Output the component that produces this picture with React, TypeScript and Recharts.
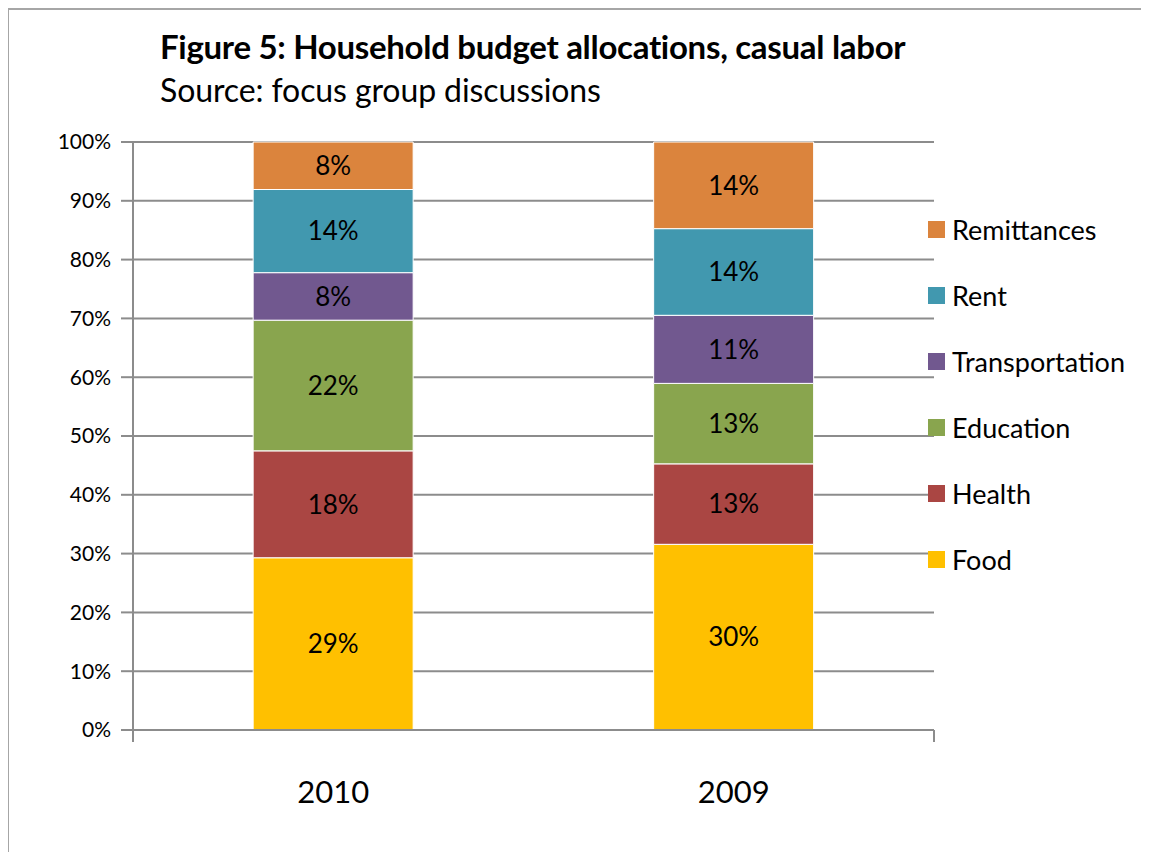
import React from 'react';
import { BarChart, Bar, XAxis, YAxis, CartesianGrid, LabelList } from 'recharts';

const years = ['2010', '2009'];
const food = [29, 30];
const health = [18, 13];
const education = [22, 13];
const transportation = [8, 11];
const rent = [14, 14];
const remittances = [8, 14];
const yTicks = [0, 0.1, 0.2, 0.3, 0.4, 0.5, 0.6, 0.7, 0.8, 0.9, 1];
const boundaryTicks = [0, 1, 2];

const series = [
  { key: 'Food', values: food, color: '#FFC000' },
  { key: 'Health', values: health, color: '#AA4643' },
  { key: 'Education', values: education, color: '#89A54E' },
  { key: 'Transportation', values: transportation, color: '#71588F' },
  { key: 'Rent', values: rent, color: '#4198AF' },
  { key: 'Remittances', values: remittances, color: '#DB843D' },
];

const data = years.map((year, i) => {
  const row: Record<string, string | number> = { year };
  series.forEach((s) => {
    row[s.key] = s.values[i];
  });
  return row;
});

const FONT = 'Lato, "Open Sans", sans-serif';
const AXIS = '#8c8c8c';

// legend lists the series top-down, same as the stack
const LegendBox = () => (
  <div style={{ position: 'absolute', left: 920, top: 188, fontFamily: FONT }}>
    {[...series].reverse().map((s) => (
      <div key={s.key} style={{ display: 'flex', alignItems: 'center', height: 66 }}>
        <span style={{ width: 17, height: 17, background: s.color, display: 'inline-block', marginRight: 7 }} />
        <span style={{ fontSize: 27, color: '#000', whiteSpace: 'nowrap' }}>{s.key}</span>
      </div>
    ))}
  </div>
);

export default function App() {
  return (
    <div style={{ position: 'relative', width: 1141, height: 844, fontFamily: FONT }}>
      <style>{'html, body { overflow: hidden; }'}</style>
      <div style={{ position: 'absolute', left: -1, top: 0, width: 1142, height: 2, background: '#a6a6a6' }} />
      <div style={{ position: 'absolute', left: -1, top: 0, width: 2, height: 844, background: '#a6a6a6' }} />
      <div style={{ position: 'absolute', left: 152, top: 18, fontSize: 33, fontWeight: 700, color: '#000', whiteSpace: 'nowrap', letterSpacing: -0.3 }}>
        Figure 5: Household budget allocations, casual labor
      </div>
      <div style={{ position: 'absolute', left: 152, top: 62, fontSize: 32, color: '#000', whiteSpace: 'nowrap', letterSpacing: -0.1 }}>
        Source: focus group discussions
      </div>
      <div style={{ position: 'absolute', left: 0, top: 0 }}>
        <BarChart
          width={1141}
          height={844}
          data={data}
          stackOffset="expand"
          barCategoryGap="30%"
          margin={{ top: 134, right: 215, left: 0, bottom: 62 }}
        >
          <CartesianGrid xAxisId="years" vertical={false} stroke={AXIS} strokeWidth={2} />
          {/* tick marks sit between the categories, like the original */}
          <XAxis
            xAxisId="edges"
            type="number"
            domain={[0, 2]}
            ticks={boundaryTicks}
            height={12}
            tickFormatter={() => ''}
            tickSize={12}
            tickLine={{ stroke: AXIS, strokeWidth: 2 }}
            axisLine={{ stroke: AXIS, strokeWidth: 2 }}
          />
          <XAxis
            xAxisId="years"
            dataKey="year"
            height={48}
            axisLine={false}
            tickLine={false}
            tickMargin={33}
            tick={{ fontSize: 31, fill: '#000', fontFamily: FONT }}
          />
          <YAxis
            width={125}
            domain={[0, 1]}
            ticks={yTicks}
            tickFormatter={(v: number) => `${Math.round(v * 100)}%`}
            tickSize={12}
            tickMargin={10}
            tickLine={{ stroke: AXIS, strokeWidth: 2 }}
            axisLine={{ stroke: AXIS, strokeWidth: 2 }}
            tick={{ fontSize: 21, fill: '#000', fontFamily: FONT }}
          />
          {series.map((s) => (
            <Bar
              key={s.key}
              xAxisId="years"
              dataKey={s.key}
              stackId="a"
              fill={s.color}
              stroke="#ffffff"
              strokeWidth={1}
              isAnimationActive={false}
            >
              <LabelList
                dataKey={s.key}
                position="center"
                formatter={(v: any) => `${v}%`}
                style={{ fontSize: 26, fill: '#000', fontFamily: FONT }}
              />
            </Bar>
          ))}
        </BarChart>
      </div>
      <LegendBox />
    </div>
  );
}
